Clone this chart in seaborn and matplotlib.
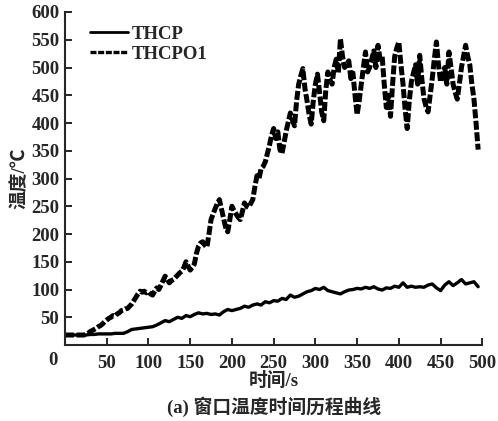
import numpy as np
import pandas as pd
import matplotlib
matplotlib.use("Agg")
import matplotlib.pyplot as plt
import seaborn as sns

# THCP - window temperature (solid), sampled every 5 s
thcp_time = np.arange(0, 500, 5)
thcp = [18, 18, 18, 18, 18, 18, 19, 19, 20, 20, 20, 20, 21, 21, 21,
        24, 28, 29, 30, 31, 32, 33, 36, 40, 44, 42, 46, 50, 48, 53,
        51, 55, 58, 56, 57, 55, 56, 54, 60, 64, 62, 64, 66, 70, 68,
        72, 74, 72, 78, 76, 80, 79, 84, 82, 90, 86, 88, 92, 96, 98,
        102, 100, 104, 98, 96, 94, 92, 96, 99, 100, 102, 101, 104, 102, 105,
        101, 99, 103, 102, 106, 104, 112, 104, 106, 104, 105, 104, 108, 110, 103,
        98, 108, 114, 107, 112, 118, 110, 112, 114, 105]

# THCPO1 - window temperature (dashed), sampled every 2.5 s
thcpo1_time = np.arange(0, 497.5, 2.5)
thcpo1 = [18, 18, 18, 18, 18, 18, 18, 18, 18, 18,
          19, 21, 24, 26, 28, 30, 33, 35, 38, 42,
          45, 48, 50, 53, 52, 56, 58, 62, 63, 65,
          66, 70, 74, 80, 86, 92, 97, 95, 97, 94,
          96, 92, 90, 97, 103, 100, 108, 116, 124, 118,
          112, 116, 118, 122, 126, 130, 133, 140, 150, 142,
          135, 140, 146, 165, 178, 184, 186, 180, 176, 200,
          226, 236, 246, 255, 262, 245, 228, 212, 204, 226,
          250, 242, 236, 230, 226, 240, 256, 250, 248, 255,
          262, 285, 305, 300, 318, 322, 330, 345, 360, 378,
          390, 372, 384, 352, 345, 365, 385, 402, 418, 405,
          395, 440, 470, 485, 498, 462, 440, 415, 398, 440,
          470, 488, 455, 420, 404, 460, 492, 478, 470, 500,
          515, 490, 552, 520, 500, 505, 512, 480, 490, 450,
          415, 440, 470, 500, 528, 492, 500, 515, 530, 500,
          540, 515, 520, 470, 428, 450, 412, 470, 520, 535,
          546, 505, 470, 425, 390, 440, 474, 490, 505, 470,
          522, 480, 445, 430, 420, 450, 480, 515, 546, 505,
          474, 485, 500, 470, 528, 500, 470, 455, 443, 470,
          500, 520, 540, 520, 505, 470, 443, 400, 352]

x_ticks = [50, 100, 150, 200, 250, 300, 350, 400, 450, 500]
y_ticks = [50, 100, 150, 200, 250, 300, 350, 400, 450, 500, 550, 600]

df_thcp = pd.DataFrame({"time": thcp_time, "temp": thcp})
df_thcpo1 = pd.DataFrame({"time": thcpo1_time, "temp": thcpo1})

sns.set_style("ticks")
plt.rcParams["font.family"] = ["Liberation Serif", "Noto Sans CJK SC"]
plt.rcParams["font.weight"] = "bold"
fs = 13.5

fig = plt.figure(figsize=(4.98, 4.21), dpi=100)
ax = fig.add_axes([0.1305, 0.1805, 0.838, 0.791])

sns.lineplot(data=df_thcp, x="time", y="temp", ax=ax,
             color="black", lw=2.4, label="THCP")
sns.lineplot(data=df_thcpo1, x="time", y="temp", ax=ax,
             color="black", lw=3.6, label="THCPO1")
ax.lines[1].set_linestyle((0, (1.8, 0.5)))

ax.set_xlim(0, 500)
ax.set_ylim(0, 600)
ax.set_xticks(x_ticks)
ax.set_yticks(y_ticks)
ax.tick_params(direction="in", length=5, width=1.4, labelsize=fs, pad=4)
ax.tick_params(axis="x", pad=7)
for lab in ax.get_xticklabels() + ax.get_yticklabels():
    lab.set_fontweight("bold")
fig.text(0.106, 0.143, "0", ha="center", va="center",
         fontsize=fs, fontweight="bold")

for s in ["top", "right"]:
    ax.spines[s].set_visible(False)
for s in ["left", "bottom"]:
    ax.spines[s].set_linewidth(1.5)

ax.set_xlabel("时间/s", fontsize=fs, fontweight="bold", labelpad=0)
ax.set_ylabel("温度/℃", fontsize=fs, fontweight="bold", labelpad=2)

leg = ax.legend(loc="upper left", bbox_to_anchor=(0.02, 1.01), frameon=False,
                handlelength=2.0, labelspacing=0.15, handletextpad=0.2,
                prop={"size": fs, "weight": "bold"})
leg.get_lines()[0].set_linewidth(2.0)
leg.get_lines()[1].set_linewidth(2.4)

fig.text(0.550, 0.033, "(a) 窗口温度时间历程曲线", ha="center", va="center",
         fontsize=fs, fontweight="bold")

fig.savefig("out.png", dpi=100)
